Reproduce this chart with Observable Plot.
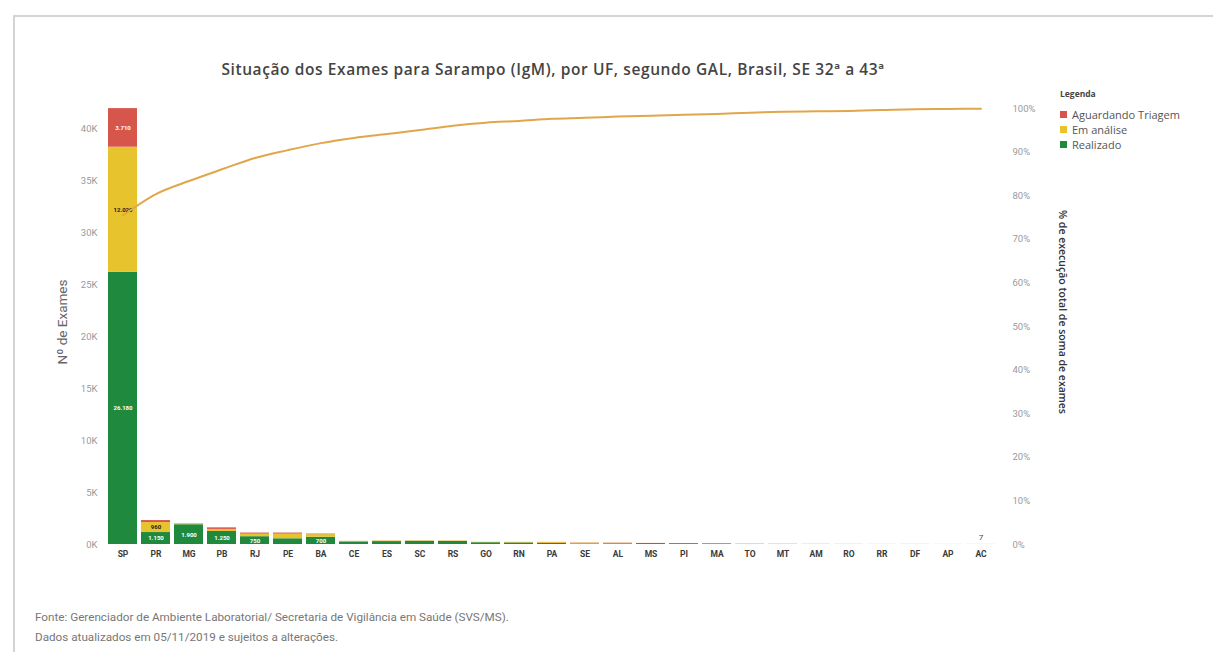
<!DOCTYPE html>
<html>
<head>
<meta charset="utf-8">
<script src="https://cdn.jsdelivr.net/npm/d3@7"></script>
<script src="https://cdn.jsdelivr.net/npm/@observablehq/plot@0.6"></script>
<style>
  html, body { margin: 0; padding: 0; background: #fff; }
  #wrap { position: relative; width: 1213px; height: 652px; overflow: hidden; background: #fff; font-family: Roboto, "Open Sans", sans-serif; }
  #frame { position: absolute; left: 13px; top: 15px; width: 1300px; height: 700px; border-top: 2px solid #d4d4d4; border-left: 2px solid #d4d4d4; }
  #title { position: absolute; left: 103px; width: 900px; top: 58px; text-align: center; font-family: "Open Sans", sans-serif; font-size: 15.5px; letter-spacing: 0.6px; font-weight: 600; color: #444; }
  #chart { position: absolute; left: 0; top: 0; }
  .ytitle { position: absolute; white-space: nowrap; transform-origin: center center; }
  #ylt { left: 2px; top: 314px; width: 120px; text-align: center; color: #666; font-size: 13.5px; transform: rotate(-90deg); }
  #yrt { left: 943px; top: 305px; width: 240px; text-align: center; color: #333; font-family: "Open Sans", sans-serif; font-size: 10.5px; font-weight: 600; transform: rotate(90deg); }
  #legend { position: absolute; left: 1060px; top: 88px; font-family: "Open Sans", sans-serif; font-size: 11px; color: #555; }
  #legend .lt { font-weight: 700; font-size: 8.5px; color: #444; margin-bottom: 8px; }
  #legend .it { display: flex; align-items: center; height: 15px; }
  #legend .sw { width: 7px; height: 7px; margin-right: 5px; }
  #foot { position: absolute; left: 35px; top: 607px; font-size: 11.7px; color: #777; line-height: 20px; }
</style>
</head>
<body>
<div id="wrap">
  <div id="frame"></div>
  <div id="title">Situação dos Exames para Sarampo (IgM), por UF, segundo GAL, Brasil, SE 32ª a 43ª</div>
  <div id="chart"></div>
  <div id="ylt" class="ytitle">Nº de Exames</div>
  <div id="yrt" class="ytitle">% de execução total de soma de exames</div>
  <div id="legend"></div>
  <div id="foot">Fonte: Gerenciador de Ambiente Laboratorial/ Secretaria de Vigilância em Saúde (SVS/MS).<br>Dados atualizados em 05/11/2019 e sujeitos a alterações.</div>
</div>
<script>
// ---- Data ----
const ufs = ["SP","PR","MG","PB","RJ","PE","BA","CE","ES","SC","RS","GO","RN","PA","SE","AL","MS","PI","MA","TO","MT","AM","RO","RR","DF","AP","AC"];
const realizado  = [26180, 1150, 1900, 1250, 750, 550, 700, 250, 280, 300, 290, 170, 150, 100, 60, 70, 90, 80, 60, 20, 15, 10, 8, 5, 6, 4, 5];
const emAnalise  = [12020, 960, 60, 200, 250, 450, 250, 40, 50, 40, 40, 30, 40, 80, 70, 50, 10, 10, 10, 5, 5, 3, 2, 2, 2, 1, 2];
const aguardando = [3710, 190, 30, 150, 100, 100, 50, 10, 10, 10, 10, 10, 10, 20, 20, 20, 5, 5, 5, 2, 2, 1, 1, 1, 1, 1, 0];
const cumPct = [75.5, 80.4, 83.4, 86.1, 88.7, 90.5, 92.1, 93.3, 94.2, 95.1, 96.1, 96.8, 97.2, 97.7, 97.9, 98.2, 98.4, 98.6, 98.8, 99.1, 99.3, 99.4, 99.5, 99.7, 99.9, 99.95, 100];
const statuses = ["Aguardando Triagem", "Em análise", "Realizado"];
const colors = ["#d6564b", "#e7c42e", "#1f8a3d"];
const leftTicks = [0, 5000, 10000, 15000, 20000, 25000, 30000, 35000, 40000];
const rightTicks = [0, 10, 20, 30, 40, 50, 60, 70, 80, 90, 100];

// ---- Build tables ----
const series = {"Aguardando Triagem": aguardando, "Em análise": emAnalise, "Realizado": realizado};
const rows = [];
ufs.forEach((uf, i) => {
  for (const s of ["Realizado", "Em análise", "Aguardando Triagem"]) rows.push({uf, status: s, value: series[s][i]});
});
const totals = ufs.map((uf, i) => ({uf, total: realizado[i] + emAnalise[i] + aguardando[i]}));
const PCT = 419; // 100% on the right axis aligns with 41,900 exams on the left
const lineData = ufs.map((uf, i) => ({uf, p: cumPct[i] * PCT}));
const order = ["Realizado", "Em análise", "Aguardando Triagem"];
const fmt = d3.format(",d");
const ptbr = v => fmt(v).replace(/,/g, ".");

const chart = Plot.plot({
  width: 1213,
  height: 580,
  marginLeft: 103,
  marginRight: 213,
  marginTop: 95,
  marginBottom: 36,
  style: {fontFamily: "Roboto, sans-serif", background: "transparent", overflow: "visible"},
  x: {domain: ufs, padding: 0.13, axis: null},
  y: {domain: [0, 43170], axis: null},
  color: {domain: statuses, range: colors},
  marks: [
    Plot.barY(rows, {x: "uf", y: "value", fill: "status", order}),
    Plot.text(rows, Plot.stackY({
      x: "uf", y: "value", z: "status", order,
      filter: d => d.value >= 700,
      text: d => ptbr(d.value),
      fill: d => d.status === "Em análise" ? "#222" : "#fff",
      fontSize: 6, fontWeight: 700
    })),
    Plot.text(totals, {filter: d => d.uf === "AC", x: "uf", y: "total", text: d => String(d.total), dy: -7, fontSize: 8, fill: "#444"}),
    Plot.line(lineData, {x: "uf", y: "p", stroke: "#e2a64a", strokeWidth: 2, curve: "monotone-x"}),
    Plot.axisY({anchor: "left", ticks: leftTicks, tickFormat: d => (d / 1000) + "K", tickSize: 0, tickPadding: 6, label: null, fill: "#9a9a9a", fontSize: 9.5}),
    Plot.axisY({anchor: "right", ticks: rightTicks.map(p => p * PCT), tickFormat: d => Math.round(d / PCT) + "%", tickSize: 0, tickPadding: 12, label: null, fill: "#9a9a9a", fontSize: 9.5}),
    Plot.axisX({anchor: "bottom", tickSize: 0, tickPadding: 6, label: null, fill: "#3a3a3a", fontSize: 8.5, fontWeight: 700})
  ]
});
document.getElementById("chart").appendChild(chart);

// ---- Legend ----
const leg = document.getElementById("legend");
leg.innerHTML = '<div class="lt">Legenda</div>' + statuses.map((s, i) =>
  `<div class="it"><span class="sw" style="background:${colors[i]}"></span>${s}</div>`).join("");
</script>
</body>
</html>
